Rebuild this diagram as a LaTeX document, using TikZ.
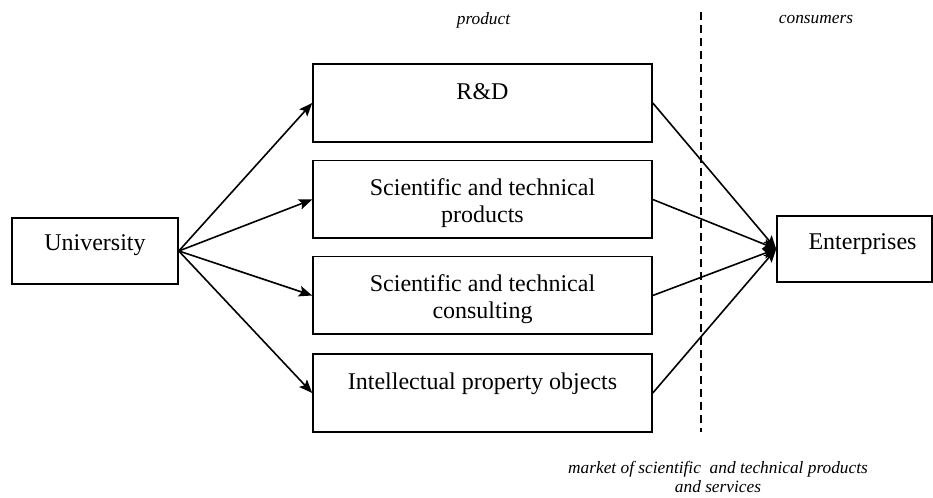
\documentclass[tikz,border=0pt]{standalone}
\usepackage{fontspec}
\setmainfont{Liberation Serif}
\usetikzlibrary{arrows.meta}
\begin{document}
\begin{tikzpicture}[x=0.75pt,y=-0.75pt,
  box/.style={draw, line width=1.2pt, inner sep=0pt, minimum width=254.25pt, minimum height=58.2pt},
  endbox/.style={box, minimum height=49.5pt},
  boxtext/.style={anchor=north, inner sep=0pt, align=center, font=\fontsize{18}{20.25}\selectfont},
  note/.style={inner sep=0pt, align=center, font=\fontsize{13}{14.25}\selectfont\itshape},
  flow/.style={line width=1.2pt, -{Stealth[length=10pt,width=8pt,inset=2pt]}},
  border/.style={line width=1.2pt, dash pattern=on 6pt off 3.75pt}]
\useasboundingbox (0,0) rectangle (933,498);

% boxes
\node[endbox, minimum width=124.5pt] (uni) at (95,251) {};
\node[box] (rd) at (482.5,103) {};
\node[box] (sp) at (482.5,199.5) {};
\node[box] (sc) at (482.5,295.5) {};
\node[box] (ip) at (482.5,393) {};
\node[endbox, minimum width=116.25pt] (ent) at (854.5,249) {};

% box captions, set from the top edge
\node[boxtext] (uni-t) at ([yshift=-10.5pt]uni.north) {\strut University};
\node[boxtext] (rd-t) at ([yshift=-12.5pt]rd.north) {\strut R\&D};
\node[boxtext] (sp-t) at ([yshift=-12.5pt]sp.north) {\strut Scientific and technical\\products};
\node[boxtext] (sc-t) at ([yshift=-12.5pt]sc.north) {\strut Scientific and technical\\consulting};
\node[boxtext] (ip-t) at ([yshift=-12.5pt]ip.north) {\strut Intellectual property objects};
\node[boxtext] (ent-t) at ([xshift=6pt,yshift=-11pt]ent.north) {\strut Enterprises};

% market boundary
\coordinate (dtop) at (701,12);
\coordinate (dbot) at (701,432);
\draw[border] (dtop) -- (dbot);

% side notes
\node[note] (lbl-product) at (483.5,20) {product};
\node[note] (lbl-consumers) at (816,20) {consumers};
\node[note] (lbl-market) at (718,477) {market of scientific\ \ and technical products\\and services};

% flows from the university
\foreach \t in {rd,sp,sc,ip}
  \draw[flow] (uni.east) -- (\t.west);

% flows to the enterprises
\foreach \s in {rd,sp,sc,ip}
  \draw[flow] (\s.east) -- (ent.west);
\end{tikzpicture}
\end{document}
